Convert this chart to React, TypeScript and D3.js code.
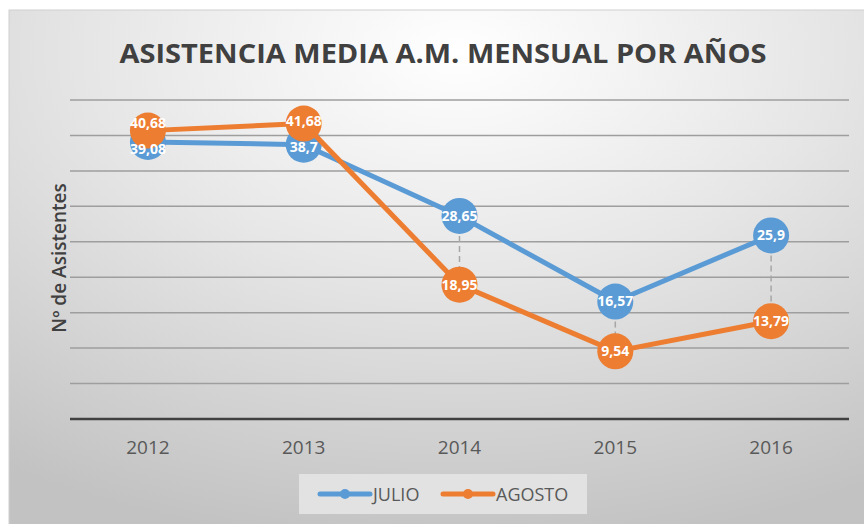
import * as d3 from "d3";

const YEARS = ["2012", "2013", "2014", "2015", "2016"];
const JULIO = [39.08, 38.7, 28.65, 16.57, 25.9];
const AGOSTO = [40.68, 41.68, 18.95, 9.54, 13.79];
const SERIES = [
  { name: "JULIO", values: JULIO, color: "#5B9BD5" },
  { name: "AGOSTO", values: AGOSTO, color: "#ED7D31" },
];

const W = 864;
const H = 524;
const FONT = "'Open Sans', sans-serif";
const R = 18; // marker radius
const MIN_GAP = 26; // min vertical distance between two labels of one year

const fmt = (v: number) => String(v).replace(".", ",");

export default function App() {
  const x = d3.scaleBand<string>().domain(YEARS).range([70, 849]);
  const cx = (yr: string) => (x(yr) ?? 0) + x.bandwidth() / 2;
  const y = d3.scaleLinear().domain([0, 45]).range([419, 100]);
  const ticks = y.ticks(9);
  const line = d3
    .line<number>()
    .x((_, i) => cx(YEARS[i]))
    .y((d) => y(d));

  // push labels apart where the two markers sit on top of each other
  const labelY = (si: number, i: number) => {
    const a = y(JULIO[i]);
    const b = y(AGOSTO[i]);
    const own = si === 0 ? a : b;
    const gap = Math.abs(a - b);
    if (gap >= MIN_GAP) return own;
    const shift = (MIN_GAP - gap) / 2;
    const other = si === 0 ? b : a;
    return own > other ? own + shift : own - shift;
  };

  return (
    <svg
      width={W}
      height={H}
      style={{ position: "absolute", left: 0, top: 0, background: "#fff" }}
    >
      <defs>
        <radialGradient id="bg" cx="52%" cy="8%" r="95%" fx="52%" fy="8%">
          <stop offset="0" stopColor="#ffffff" />
          <stop offset="0.45" stopColor="#e6e6e6" />
          <stop offset="1" stopColor="#c2c2c2" />
        </radialGradient>
      </defs>
      <rect x={9} y={10} width={W} height={H} fill="url(#bg)" stroke="#d0d0d0" />

      {/* title */}
      <text
        x={443}
        y={63}
        textAnchor="middle"
        fontFamily={FONT}
        fontWeight={700}
        fontSize={26}
        fill="#404040"
        textLength={647}
        lengthAdjust="spacingAndGlyphs"
      >
        ASISTENCIA MEDIA A.M. MENSUAL POR AÑOS
      </text>

      {/* grid */}
      {ticks
        .filter((t) => t > 0)
        .map((t) => (
          <line key={t} x1={70} x2={849} y1={y(t)} y2={y(t)} stroke="#9e9e9e" strokeWidth={1.5} />
        ))}
      <line x1={70} x2={849} y1={y(0)} y2={y(0)} stroke="#404040" strokeWidth={2.5} />

      {/* x labels */}
      {YEARS.map((yr) => (
        <text
          key={yr}
          x={cx(yr)}
          y={454}
          textAnchor="middle"
          fontFamily={FONT}
          fontSize={19}
          fill="#595959"
        >
          {yr}
        </text>
      ))}

      {/* y title */}
      <text
        transform={`translate(66,258) rotate(-90)`}
        textAnchor="middle"
        fontFamily={FONT}
        fontWeight={600}
        fontSize={19}
        fill="#404040"
      >
        Nº de Asistentes
      </text>

      {/* drop lines */}
      {YEARS.map((yr, i) => (
        <line
          key={yr}
          x1={cx(yr)}
          x2={cx(yr)}
          y1={y(Math.max(JULIO[i], AGOSTO[i]))}
          y2={y(Math.min(JULIO[i], AGOSTO[i]))}
          stroke="#a6a6a6"
          strokeWidth={1.5}
          strokeDasharray="6 4"
        />
      ))}

      {/* series */}
      {SERIES.map((s) => (
        <g key={s.name}>
          <path d={line(s.values) ?? ""} fill="none" stroke={s.color} strokeWidth={5} strokeLinejoin="round" />
          {s.values.map((v, i) => (
            <circle key={i} cx={cx(YEARS[i])} cy={y(v)} r={R} fill={s.color} />
          ))}
        </g>
      ))}

      {/* data labels */}
      {SERIES.map((s, si) =>
        s.values.map((v, i) => (
          <text
            key={s.name + i}
            x={cx(YEARS[i])}
            y={labelY(si, i)}
            dy="0.35em"
            textAnchor="middle"
            fontFamily={FONT}
            fontWeight={700}
            fontSize={14}
            fill="#ffffff"
          >
            {fmt(v)}
          </text>
        )),
      )}

      {/* legend */}
      <rect x={299} y={474} width={288} height={40} fill="#e2e2e2" />
      {SERIES.map((s, i) => {
        const lx = 320 + i * 123;
        return (
          <g key={s.name}>
            <line x1={lx} x2={lx + 50} y1={494} y2={494} stroke={s.color} strokeWidth={5} strokeLinecap="round" />
            <circle cx={lx + 25} cy={494} r={5} fill={s.color} />
            <text x={lx + 53} y={501} fontFamily={FONT} fontSize={18} fill="#595959">
              {s.name}
            </text>
          </g>
        );
      })}
    </svg>
  );
}
